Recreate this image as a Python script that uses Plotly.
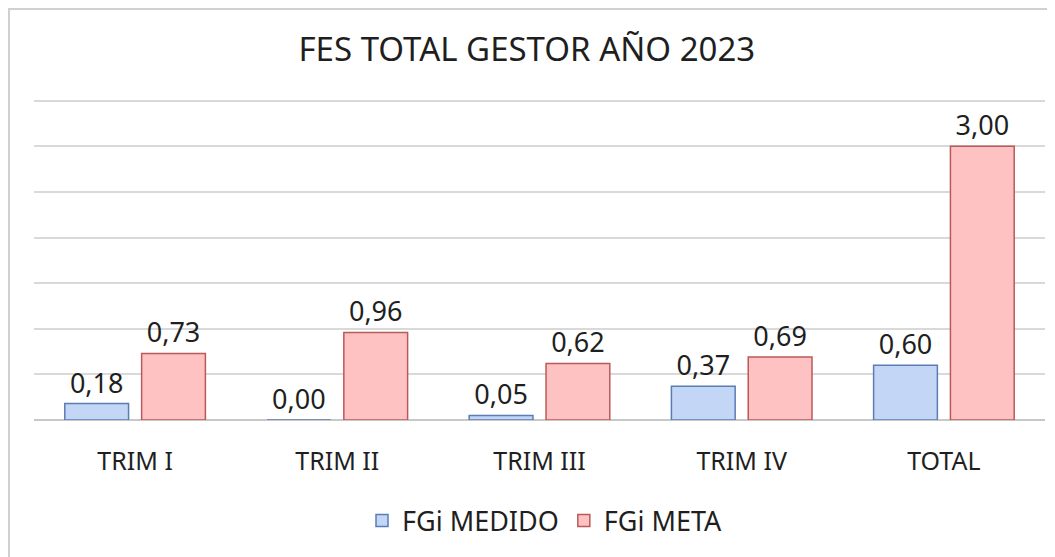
import plotly.graph_objects as go

categories = ["TRIM I", "TRIM II", "TRIM III", "TRIM IV", "TOTAL"]
medido = [0.18, 0.00, 0.05, 0.37, 0.60]
meta = [0.73, 0.96, 0.62, 0.69, 3.00]

# page body adds an 8px offset; figure coords = reference pixel - 8
OFF = 8
W, H = 1047, 549
L, R, T, B = 26, 10, 90, 137
pw, ph = W - L - R, H - T - B

def px(x):
    return (x - OFF - L) / pw

def py(y):
    return (H - B - (y - OFF)) / ph

FONT = "Noto Sans"
TXT = "#1f1f1f"

fig = go.Figure()
fig.add_trace(go.Bar(
    name="FGi MEDIDO", x=categories, y=medido,
    marker=dict(color="#c3d6f6", line=dict(color="#5a7db5", width=1.5)),
    texttemplate="%{y:.2f}", textposition="outside", cliponaxis=False,
    textfont=dict(family=FONT, size=27, color=TXT),
))
fig.add_trace(go.Bar(
    name="FGi META", x=categories, y=meta,
    marker=dict(color="#ffc2c2", line=dict(color="#b85a5a", width=1.5)),
    texttemplate="%{y:.2f}", textposition="outside", cliponaxis=False,
    textfont=dict(family=FONT, size=27, color=TXT),
))

shapes = [
    dict(type="rect", xref="paper", yref="paper",
         x0=px(9), x1=px(1080), y0=py(9), y1=py(600),
         line=dict(color="#d0d0d0", width=2), fillcolor="rgba(0,0,0,0)", layer="below"),
]

fig.update_layout(
    width=W, height=H,
    margin=dict(l=L, r=R, t=T, b=B),
    paper_bgcolor="white", plot_bgcolor="white",
    separators=",.",
    barmode="group", bargap=0.24, bargroupgap=0.17,
    title=dict(text="FES TOTAL GESTOR AÑO 2023", x=px(535), xanchor="center",
               y=1 - (49 - OFF) / H, yanchor="middle",
               font=dict(family=FONT, size=33, color=TXT)),
    xaxis=dict(showgrid=False, showline=False, ticks="",
               tickfont=dict(family=FONT, size=25, color=TXT), ticklabelstandoff=24),
    yaxis=dict(range=[0, 3.53], tickvals=[0, 0.5, 1, 1.5, 2, 2.5, 3, 3.5],
               showticklabels=False,
               gridcolor="#d9d9d9", gridwidth=1.5,
               zeroline=True, zerolinecolor="#c8c8c8", zerolinewidth=2),
    legend=dict(orientation="h", x=px(545), xanchor="center", y=py(521), yanchor="middle",
                font=dict(family=FONT, size=27, color=TXT), itemwidth=30,
                traceorder="normal"),
    showlegend=True,
    shapes=shapes,
)

fig.write_html("out.html")
